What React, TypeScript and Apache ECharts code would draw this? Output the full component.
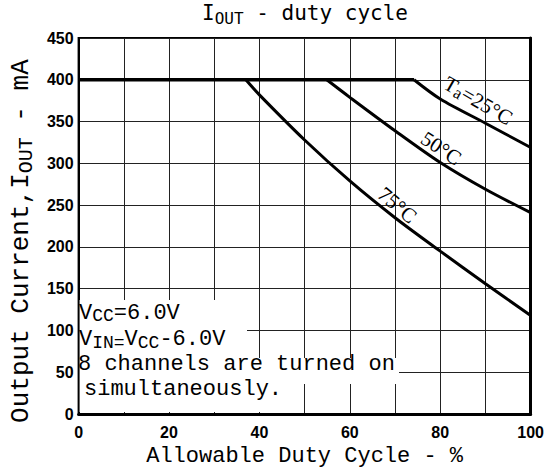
import React, { useEffect, useRef } from "react";
import * as echarts from "echarts";

// ---- data ----
const xLabelValues = [0, 20, 40, 60, 80, 100];
const yLabelValues = [0, 50, 100, 150, 200, 250, 300, 350, 400, 450];
const baseLine = [
  [0, 400],
  [74.2, 400],
];
const curve25 = [
  [74.2, 400],
  [80, 377],
  [90, 348],
  [100, 319],
];
const curve50 = [
  [54.9, 400],
  [60, 379],
  [70, 339],
  [80, 301],
  [90, 269],
  [100, 241],
];
const curve75 = [
  [37, 400],
  [40, 382],
  [50, 328],
  [60, 279],
  [70, 235],
  [80, 195],
  [90, 156],
  [100, 118],
];
const noteLines = ["VCC=6.0V", "VIN=VCC-6.0V", "8 channels are turned on", "simultaneously."];

const MONO = "'Liberation Mono', 'Courier New', monospace";
const SANSMONO = "'DejaVu Sans Mono', monospace";
const BOLD = "'Liberation Sans', Arial, sans-serif";
const SERIF = "'Liberation Serif', 'DejaVu Serif', serif";

export default function App() {
  const ref = useRef<HTMLDivElement>(null);
  useEffect(() => {
    const chart = echarts.init(ref.current!, null, { renderer: "svg" });
    const lineSeries = (data: number[][], smooth: number | boolean, width: number) => ({
      type: "line",
      data,
      smooth,
      symbol: "none",
      lineStyle: { color: "#000", width },
      z: 5,
    });
    chart.setOption({
      animation: false,
      backgroundColor: "#fff",
      grid: {
        left: 76,
        right: 5,
        top: 38,
        bottom: 51,
        show: true,
        borderColor: "#000",
        borderWidth: 2,
      },
      xAxis: [
        {
          type: "value",
          min: 0,
          max: 100,
          interval: 10,
          axisLine: { show: true, onZero: false, lineStyle: { color: "#000", width: 3 } },
          axisTick: { show: false },
          splitLine: { show: true, lineStyle: { color: "#222", width: 1 } },
          axisLabel: {
            formatter: (v: number) => (xLabelValues.includes(v) ? String(v) : ""),
            color: "#000",
            fontFamily: BOLD,
            fontWeight: "bold",
            fontSize: 16,
            margin: 10,
          },
          name: "Allowable Duty Cycle - %",
          nameLocation: "middle",
          nameGap: 27,
          nameTextStyle: { color: "#000", fontFamily: MONO, fontSize: 22 },
        },
      ],
      yAxis: [
        {
          type: "value",
          min: 0,
          max: 450,
          interval: 50,
          axisLine: { show: true, lineStyle: { color: "#000", width: 2 } },
          axisTick: { show: false },
          splitLine: { show: true, lineStyle: { color: "#222", width: 1 } },
          axisLabel: {
            formatter: (v: number) => (yLabelValues.includes(v) ? String(v) : ""),
            color: "#000",
            fontFamily: BOLD,
            fontWeight: "bold",
            fontSize: 16,
            margin: 5,
          },
          name: "{m|Output Current,I}{s|OUT}{m| - mA}",
          nameLocation: "middle",
          nameGap: 42,
          nameTextStyle: {
            color: "#000",
            padding: [0, 30, 0, 0],
            rich: {
              m: { fontFamily: MONO, fontSize: 26, color: "#000", lineHeight: 30 },
              s: { fontFamily: MONO, fontSize: 20, color: "#000", verticalAlign: "bottom", lineHeight: 20 },
            },
          },
        },
        {
          type: "value",
          min: 0,
          max: 450,
          interval: 50,
          position: "right",
          axisLine: { show: true, lineStyle: { color: "#000", width: 3 } },
          axisTick: { show: false },
          axisLabel: { show: false },
          splitLine: { show: false },
        },
      ],
      series: [
        lineSeries(baseLine, false, 3.5),
        lineSeries(curve25, 0.3, 3),
        lineSeries(curve50, 0.3, 3),
        lineSeries(curve75, 0.3, 3),
      ],
    });

    const px = (p: number[]) => chart.convertToPixel({ gridIndex: 0 }, p) as number[];
    const left = px([0, 0])[0];
    const bottom = px([0, 0])[1];

    const monoRich = {
      m: { fontFamily: MONO, fontSize: 22, fill: "#000", lineHeight: 24 },
      s: { fontFamily: MONO, fontSize: 18, fill: "#000", verticalAlign: "bottom", lineHeight: 16 },
    };
    const richRow = (text: string) => {
      if (text === "VCC=6.0V") return "{m|V}{s|CC}{m|=6.0V}";
      if (text === "VIN=VCC-6.0V") return "{m|V}{s|IN=}{m|V}{s|CC}{m|-6.0V}";
      return "{m|" + text + "}";
    };
    const rowY = [313, 339.5, 364, 389.5];
    const rowX = [79, 79, 78, 84];

    const curveLabel = (text: string, at: number[], deg: number) => {
      const p = px(at);
      return {
        type: "text",
        x: p[0],
        y: p[1],
        rotation: (deg * Math.PI) / 180,
        z: 20,
        style: {
          text,
          align: "center",
          verticalAlign: "middle",
          rich: {
            t: { fontFamily: SERIF, fontSize: 21, fill: "#000", lineHeight: 24 },
            s: { fontFamily: SERIF, fontSize: 17, fill: "#000", verticalAlign: "bottom", lineHeight: 17 },
          },
        },
      };
    };

    chart.setOption({
      graphic: [
        {
          type: "text",
          x: 305,
          y: 13,
          z: 20,
          style: {
            text: "{m|I}{s|OUT}{m| - duty cycle}",
            align: "center",
            verticalAlign: "middle",
            rich: {
              m: { fontFamily: SANSMONO, fontSize: 21, fill: "#000", lineHeight: 26 },
              s: { fontFamily: SANSMONO, fontSize: 16, fill: "#000", verticalAlign: "bottom", lineHeight: 16 },
            },
          },
        },
        { type: "rect", z: 15, shape: { x: left + 1, y: 300, width: 246 - left, height: 58 }, style: { fill: "#fff" } },
        { type: "rect", z: 15, shape: { x: left + 1, y: 358, width: 398 - left, height: 26 }, style: { fill: "#fff" } },
        { type: "rect", z: 15, shape: { x: left + 1, y: 384, width: 292 - left, height: bottom - 386 }, style: { fill: "#fff" } },
        ...noteLines.map((t, i) => ({
          type: "text",
          x: rowX[i],
          y: rowY[i],
          z: 20,
          style: { text: richRow(t), align: "left", verticalAlign: "middle", rich: monoRich },
        })),
        curveLabel("{t|T}{s|a}{t|=25°C}", [88.4, 375], -30),
        curveLabel("{t|50°C}", [80.2, 318], -33),
        curveLabel("{t|75°C}", [70.5, 250], -40),
      ],
    });
    return () => chart.dispose();
  }, []);
  return <div ref={ref} style={{ position: "absolute", left: 0, top: 0, width: 547, height: 472 }} />;
}
